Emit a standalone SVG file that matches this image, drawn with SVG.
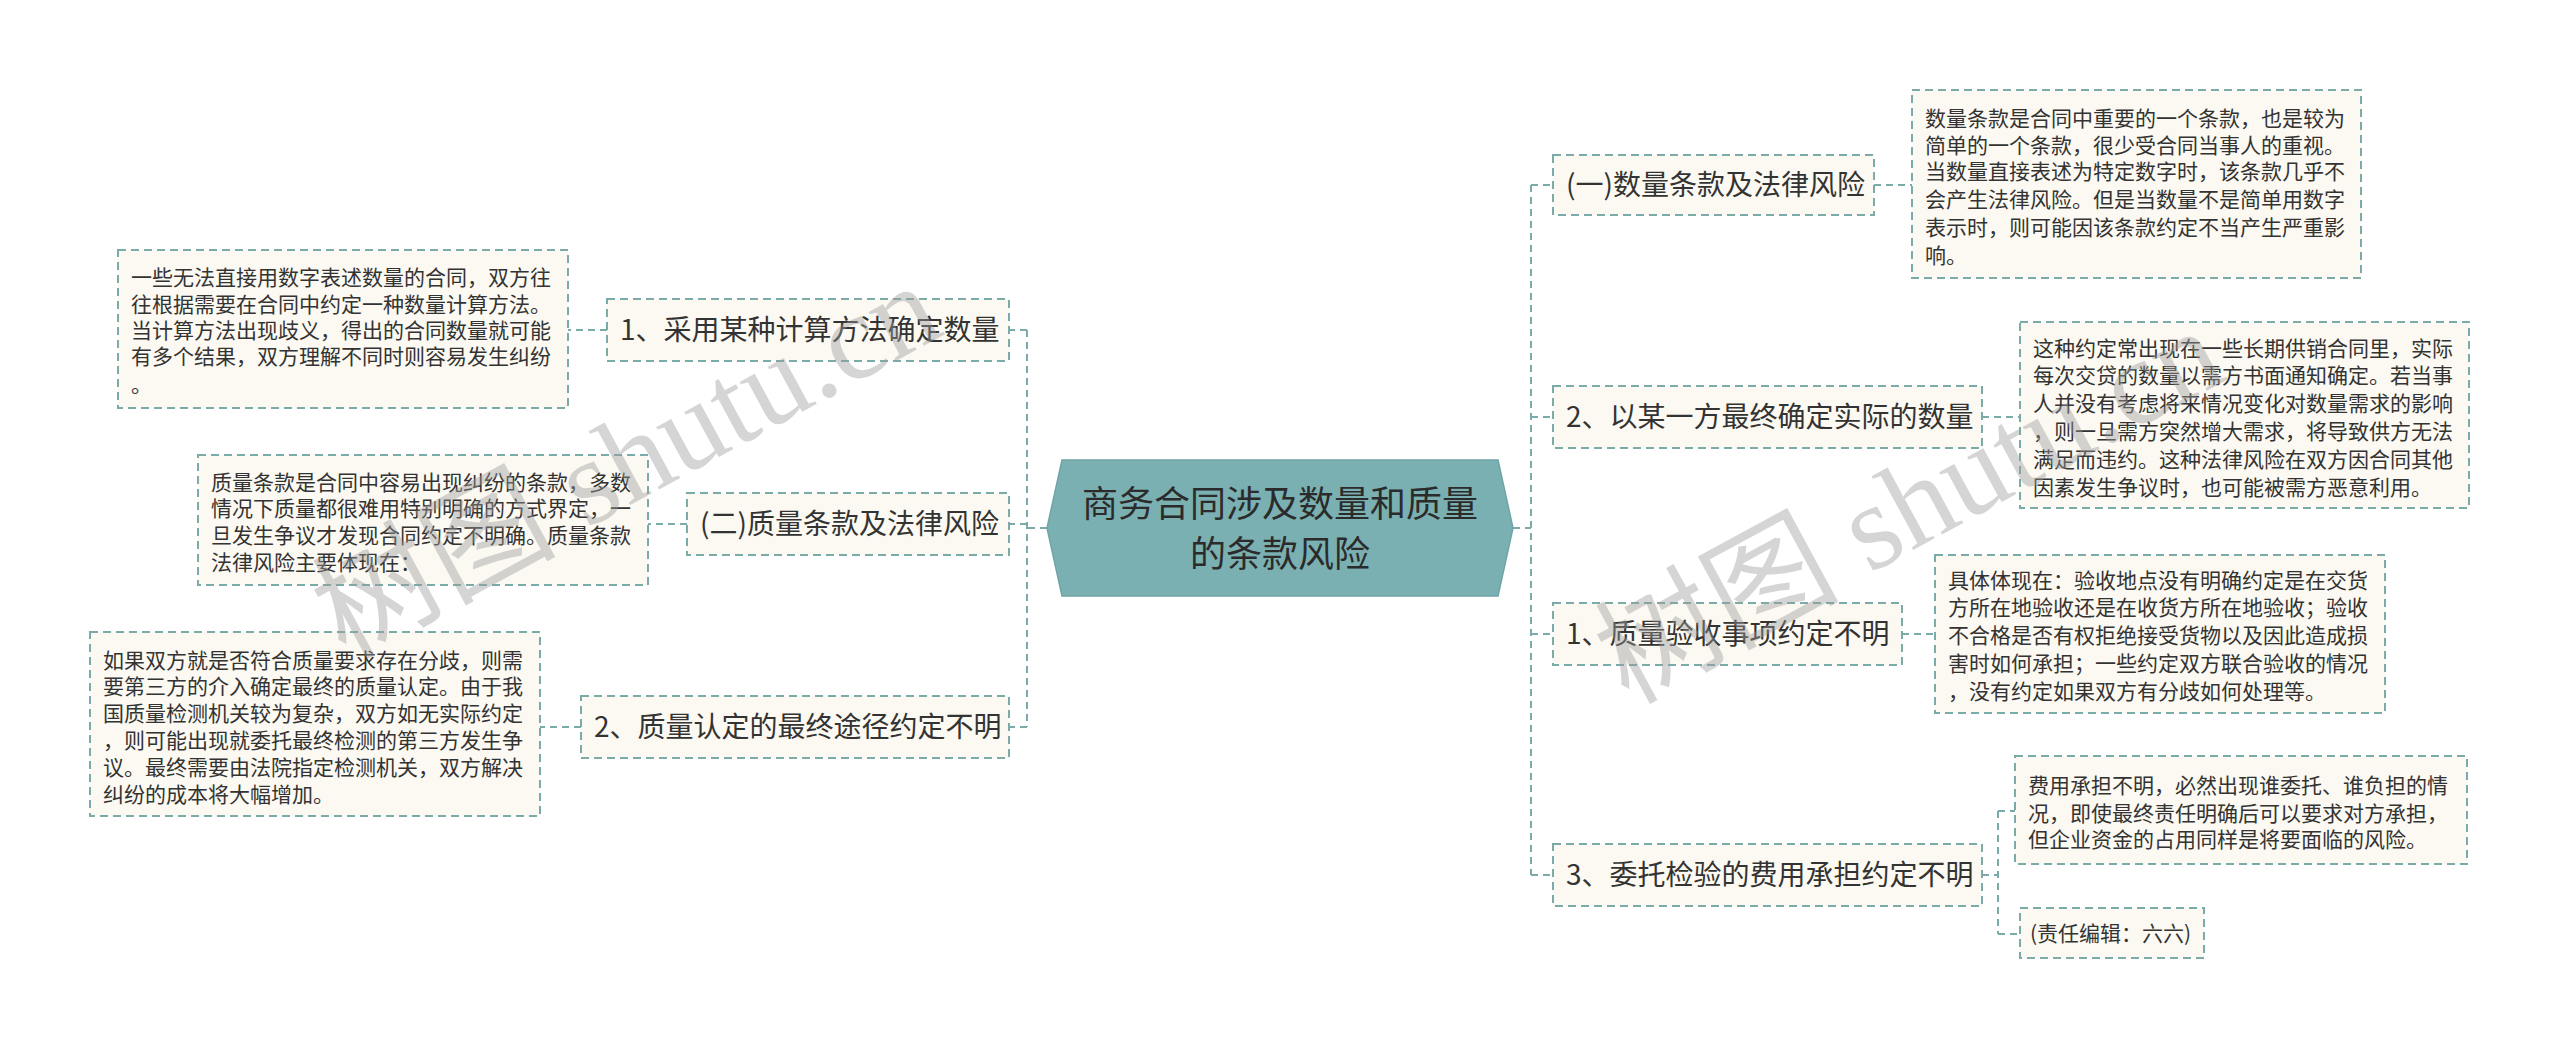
<svg xmlns="http://www.w3.org/2000/svg" width="2560" height="1050" viewBox="0 0 2560 1050">
<style>
  .box { fill: #FBF9F1; stroke: #7AABA9; stroke-width: 2; stroke-dasharray: 8 5; }
  .lbl { font-family: 'Noto Sans CJK SC', 'Noto Sans', sans-serif; font-size: 28px; fill: #333333; }
  .txt { font-family: 'Noto Sans CJK SC', 'Noto Sans', sans-serif; font-size: 21px; fill: #333333; }
  .ctr { font-family: 'Noto Sans CJK SC', 'Noto Sans', sans-serif; font-size: 36px; fill: #2B2B2B; }
  .conn { fill: none; stroke: #7AABA9; stroke-width: 2; stroke-dasharray: 7 5; }
  .wm { font-family: 'Liberation Serif', 'Noto Sans CJK SC', serif; font-size: 122px; fill: #9A9A9A; fill-opacity: 0.42; }
</style>
<rect width="2560" height="1050" fill="#FFFFFF"/>

<g id="connectors">
  <path class="conn" d="M1047 528 H1027 M1027 330 V727 M1027 330 H1009 M1027 524 H1009 M1027 727 H1009"/>
  <path class="conn" d="M607 330 H568 M687 524 H648 M581 727 H540"/>
  <path class="conn" d="M1513 528 H1531 M1531 185 V875 M1531 185 H1553 M1531 417 H1553 M1531 634 H1553 M1531 875 H1553"/>
  <path class="conn" d="M1874 185 H1912 M1982 417 H2020 M1902 634 H1935 M1982 875 H1998 M1998 811 V934 M1998 811 H2015 M1998 934 H2020"/>
</g>

<g id="center">
  <polygon points="1062,460 1498,460 1513,528 1498,596 1062,596 1047,528" fill="#7AB0B2" stroke="#6FA4A6" stroke-width="1.5"/>
  <text class="ctr" x="1280" y="517" text-anchor="middle">商务合同涉及数量和质量</text>
  <text class="ctr" x="1280" y="567" text-anchor="middle">的条款风险</text>
</g>

<g id="node-l1">
  <rect class="box" x="607" y="299" width="402" height="62"/>
  <text class="lbl" x="620" y="340">1、采用某种计算方法确定数量</text>
</g>
<g id="leaf-l1">
  <rect class="box" x="118" y="250" width="450" height="158"/>
  <text class="txt" x="131" y="285">一些无法直接用数字表述数量的合同，双方往</text>
  <text class="txt" x="131" y="312">往根据需要在合同中约定一种数量计算方法。</text>
  <text class="txt" x="131" y="338">当计算方法出现歧义，得出的合同数量就可能</text>
  <text class="txt" x="131" y="364">有多个结果，双方理解不同时则容易发生纠纷</text>
  <text class="txt" x="131" y="392">。</text>
</g>

<g id="node-l2">
  <rect class="box" x="687" y="493" width="322" height="62"/>
  <text class="lbl" x="700" y="534">(二)质量条款及法律风险</text>
</g>
<g id="leaf-l2">
  <rect class="box" x="198" y="455" width="450" height="130"/>
  <text class="txt" x="211" y="490">质量条款是合同中容易出现纠纷的条款，多数</text>
  <text class="txt" x="211" y="516">情况下质量都很难用特别明确的方式界定，一</text>
  <text class="txt" x="211" y="543">旦发生争议才发现合同约定不明确。质量条款</text>
  <text class="txt" x="211" y="570">法律风险主要体现在：</text>
</g>

<g id="node-l3">
  <rect class="box" x="581" y="696" width="428" height="62"/>
  <text class="lbl" x="594" y="737">2、质量认定的最终途径约定不明</text>
</g>
<g id="leaf-l3">
  <rect class="box" x="90" y="632" width="450" height="184"/>
  <text class="txt" x="103" y="668">如果双方就是否符合质量要求存在分歧，则需</text>
  <text class="txt" x="103" y="694">要第三方的介入确定最终的质量认定。由于我</text>
  <text class="txt" x="103" y="721">国质量检测机关较为复杂，双方如无实际约定</text>
  <text class="txt" x="103" y="748">，则可能出现就委托最终检测的第三方发生争</text>
  <text class="txt" x="103" y="775">议。最终需要由法院指定检测机关，双方解决</text>
  <text class="txt" x="103" y="802">纠纷的成本将大幅增加。</text>
</g>

<g id="node-r1">
  <rect class="box" x="1553" y="155" width="321" height="60"/>
  <text class="lbl" x="1566" y="195">(一)数量条款及法律风险</text>
</g>
<g id="leaf-r1">
  <rect class="box" x="1912" y="90" width="449" height="188"/>
  <text class="txt" x="1925" y="126">数量条款是合同中重要的一个条款，也是较为</text>
  <text class="txt" x="1925" y="153">简单的一个条款，很少受合同当事人的重视。</text>
  <text class="txt" x="1925" y="179">当数量直接表述为特定数字时，该条款几乎不</text>
  <text class="txt" x="1925" y="207">会产生法律风险。但是当数量不是简单用数字</text>
  <text class="txt" x="1925" y="235">表示时，则可能因该条款约定不当产生严重影</text>
  <text class="txt" x="1925" y="263">响。</text>
</g>

<g id="node-r2">
  <rect class="box" x="1553" y="386" width="429" height="62"/>
  <text class="lbl" x="1566" y="427">2、以某一方最终确定实际的数量</text>
</g>
<g id="leaf-r2">
  <rect class="box" x="2020" y="322" width="449" height="186"/>
  <text class="txt" x="2033" y="356">这种约定常出现在一些长期供销合同里，实际</text>
  <text class="txt" x="2033" y="383">每次交贷的数量以需方书面通知确定。若当事</text>
  <text class="txt" x="2033" y="411">人并没有考虑将来情况变化对数量需求的影响</text>
  <text class="txt" x="2033" y="439">，则一旦需方突然增大需求，将导致供方无法</text>
  <text class="txt" x="2033" y="467">满足而违约。这种法律风险在双方因合同其他</text>
  <text class="txt" x="2033" y="495">因素发生争议时，也可能被需方恶意利用。</text>
</g>

<g id="node-r3">
  <rect class="box" x="1553" y="603" width="349" height="62"/>
  <text class="lbl" x="1566" y="644">1、质量验收事项约定不明</text>
</g>
<g id="leaf-r3">
  <rect class="box" x="1935" y="555" width="450" height="158"/>
  <text class="txt" x="1948" y="588">具体体现在：验收地点没有明确约定是在交货</text>
  <text class="txt" x="1948" y="615">方所在地验收还是在收货方所在地验收；验收</text>
  <text class="txt" x="1948" y="643">不合格是否有权拒绝接受货物以及因此造成损</text>
  <text class="txt" x="1948" y="671">害时如何承担；一些约定双方联合验收的情况</text>
  <text class="txt" x="1948" y="699">，没有约定如果双方有分歧如何处理等。</text>
</g>

<g id="node-r4">
  <rect class="box" x="1553" y="844" width="429" height="62"/>
  <text class="lbl" x="1566" y="885">3、委托检验的费用承担约定不明</text>
</g>
<g id="leaf-r4">
  <rect class="box" x="2015" y="756" width="452" height="108"/>
  <text class="txt" x="2028" y="793">费用承担不明，必然出现谁委托、谁负担的情</text>
  <text class="txt" x="2028" y="821">况，即使最终责任明确后可以要求对方承担，</text>
  <text class="txt" x="2028" y="847">但企业资金的占用同样是将要面临的风险。</text>
</g>
<g id="leaf-r5">
  <rect class="box" x="2020" y="908" width="184" height="50"/>
  <text class="txt" x="2030" y="941">(责任编辑：六六)</text>
</g>

<g id="watermarks">
  <text class="wm" transform="translate(345,660) rotate(-28.5)">树图 shutu.cn</text>
  <text class="wm" transform="translate(1628,705) rotate(-28.5)">树图 shutu.cn</text>
</g>
</svg>
